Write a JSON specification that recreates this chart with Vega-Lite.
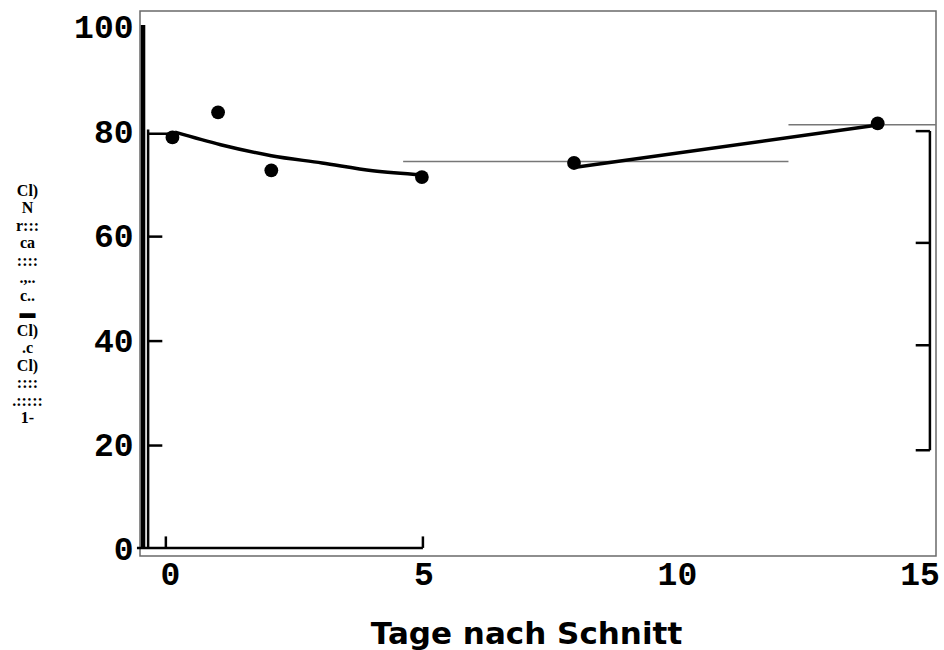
{
  "$schema": "https://vega.github.io/schema/vega-lite/v6.json",
  "width": 796,
  "height": 545,
  "autosize": {"type": "none"},
  "padding": {"left": 140, "top": 11, "right": 8, "bottom": 94},
  "background": "white",
  "config": {
    "view": {"stroke": "#6a6a6a", "strokeWidth": 1.5},
    "axis": {"domain": false, "ticks": false, "grid": false, "labelColor": "black", "titleColor": "black"}
  },
  "datasets": {
    "points": [
      {"day": 0.05, "value": 79.0},
      {"day": 0.95, "value": 83.8},
      {"day": 2.0, "value": 72.7},
      {"day": 4.97, "value": 71.4},
      {"day": 7.97, "value": 74.1},
      {"day": 13.96, "value": 81.7}
    ],
    "curves": [
      {"seg": "a", "day": 0.1, "value": 80.0},
      {"seg": "a", "day": 1.0, "value": 77.6},
      {"seg": "a", "day": 2.0, "value": 75.5},
      {"seg": "a", "day": 3.0, "value": 74.1},
      {"seg": "a", "day": 4.0, "value": 72.6},
      {"seg": "a", "day": 5.0, "value": 71.8},
      {"seg": "b", "day": 8.0, "value": 73.3},
      {"seg": "b", "day": 14.0, "value": 81.4}
    ],
    "refLines": [
      {"x": 4.6, "x2": 12.2, "y": 74.4, "y2": 74.4},
      {"x": 12.2, "x2": 15.11, "y": 81.4, "y2": 81.4}
    ],
    "thickAxis": [
      {"x": -0.53, "x2": -0.53, "y": 0.4, "y2": 100.5}
    ],
    "frameRules": [
      {"x": -0.43, "x2": -0.43, "y": 0.4, "y2": 80.5},
      {"x": -0.43, "x2": 0.0, "y": 79.7, "y2": 79.7},
      {"x": -0.43, "x2": -0.15, "y": 60, "y2": 60},
      {"x": -0.43, "x2": -0.15, "y": 40, "y2": 40},
      {"x": -0.43, "x2": -0.15, "y": 20, "y2": 20},
      {"x": -0.65, "x2": 4.99, "y": 0.4, "y2": 0.4},
      {"x": -0.08, "x2": -0.08, "y": 0.4, "y2": 2.6},
      {"x": 4.99, "x2": 4.99, "y": 0.4, "y2": 2.6},
      {"x": 14.99, "x2": 14.99, "y": 19.1, "y2": 80.2},
      {"x": 14.71, "x2": 14.99, "y": 80.2, "y2": 80.2},
      {"x": 14.71, "x2": 14.99, "y": 58.8, "y2": 58.8},
      {"x": 14.71, "x2": 14.99, "y": 39.2, "y2": 39.2},
      {"x": 14.71, "x2": 14.99, "y": 19.1, "y2": 19.1}
    ]
  },
  "layer": [
    {
      "data": {"name": "refLines"},
      "mark": {"type": "rule", "color": "#777777", "strokeWidth": 1.5},
      "encoding": {
        "x": {"field": "x", "type": "quantitative", "scale": {"domain": [-0.59, 15.11], "nice": false, "zero": false},
          "axis": {"values": [0, 5, 10, 15], "labelFont": "Liberation Mono", "labelFontWeight": "bold", "labelFontSize": 33, "labelPadding": 2,
            "labelFlush": 15, "labelFlushOffset": 9,
            "title": "Tage nach Schnitt", "titleFont": "DejaVu Sans", "titleFontWeight": "bold", "titleFontSize": 31,
            "titleX": 386, "titleY": 87, "titleBaseline": "alphabetic", "titleAnchor": "middle"}},
        "x2": {"field": "x2"},
        "y": {"field": "y", "type": "quantitative", "scale": {"domain": [-1.15, 103.2], "nice": false, "zero": false},
          "axis": {"values": [0, 20, 40, 60, 80, 100], "labelFont": "Liberation Mono", "labelFontWeight": "bold", "labelFontSize": 33, "labelPadding": 7,
            "title": ["Cl)", "N", "r:::", "ca", "::::", ".,..", "c..", "▬", "Cl)", ".c", "Cl)", "::::", ".:::::", "1-"],
            "titleFont": "Liberation Serif", "titleFontWeight": "bold", "titleFontSize": 16, "titleLineHeight": 17.5,
            "titleAngle": 0, "titleAlign": "center", "titleBaseline": "middle", "titleX": -113, "titleY": 179}},
        "y2": {"field": "y2"}
      }
    },
    {
      "data": {"name": "thickAxis"},
      "mark": {"type": "rule", "color": "black", "strokeWidth": 4.5},
      "encoding": {
        "x": {"field": "x", "type": "quantitative"},
        "x2": {"field": "x2"},
        "y": {"field": "y", "type": "quantitative"},
        "y2": {"field": "y2"}
      }
    },
    {
      "data": {"name": "frameRules"},
      "mark": {"type": "rule", "color": "black", "strokeWidth": 2.5},
      "encoding": {
        "x": {"field": "x", "type": "quantitative"},
        "x2": {"field": "x2"},
        "y": {"field": "y", "type": "quantitative"},
        "y2": {"field": "y2"}
      }
    },
    {
      "data": {"name": "curves"},
      "mark": {"type": "line", "color": "black", "strokeWidth": 3.5, "interpolate": "monotone"},
      "encoding": {
        "x": {"field": "day", "type": "quantitative"},
        "y": {"field": "value", "type": "quantitative"},
        "detail": {"field": "seg"}
      }
    },
    {
      "data": {"name": "points"},
      "mark": {"type": "circle", "color": "black", "opacity": 1, "size": 190},
      "encoding": {
        "x": {"field": "day", "type": "quantitative"},
        "y": {"field": "value", "type": "quantitative"}
      }
    }
  ]
}
